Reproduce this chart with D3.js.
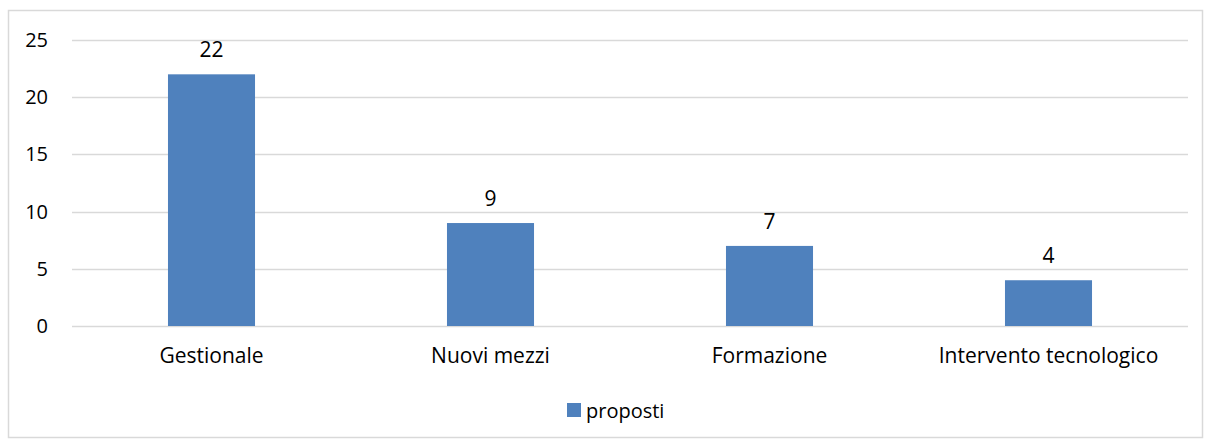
<!DOCTYPE html>
<html>
<head>
<meta charset="utf-8">
<script src="https://cdn.jsdelivr.net/npm/d3@7"></script>
<style>
  body { margin: 0; background: #fff; }
  text { font-family: "Open Sans", "Noto Sans", sans-serif; fill: #000; }
</style>
</head>
<body>
<div id="chart-area"></div>
<script>
const categories = ["Gestionale", "Nuovi mezzi", "Formazione", "Intervento tecnologico"]
const values = [22, 9, 7, 4]
const yTicks = [0, 5, 10, 15, 20, 25]
const seriesName = "proposti"

const totalWidth = 1208
const totalHeight = 441
const MARGIN = {LEFT: 72, RIGHT: 20, TOP: 40, BOTTOM: 115}
const WIDTH = totalWidth - MARGIN.LEFT - MARGIN.RIGHT
const HEIGHT = totalHeight - MARGIN.TOP - MARGIN.BOTTOM
const BAR_COLOR = "#4F81BD"
const GRID_COLOR = "#D9D9D9"
const FONT = '"Open Sans", "Noto Sans", sans-serif'

const svg = d3.select("#chart-area")
    .append("svg")
    .attr("width", totalWidth)
    .attr("height", totalHeight)

// outer frame
svg.append("rect")
    .attr("x", 8.5)
    .attr("y", 10.5)
    .attr("width", totalWidth - 14)
    .attr("height", totalHeight - 14)
    .attr("fill", "none")
    .attr("stroke", GRID_COLOR)
    .attr("stroke-width", 1.5)

const g = svg.append("g")
    .attr("transform", `translate(${MARGIN.LEFT}, ${MARGIN.TOP})`)

const xScale = d3.scaleBand()
    .domain(categories)
    .range([0, WIDTH])
    .paddingInner(0.688)
    .paddingOuter(0.344)

const yScale = d3.scaleLinear()
    .domain([0, 25])
    .range([HEIGHT, 0])

// gridlines
g.append("g")
    .attr("class", "grid")
    .selectAll("line")
    .data(yTicks)
    .join("line")
    .attr("x1", 0)
    .attr("x2", WIDTH)
    .attr("y1", d => Math.round(yScale(d)) + 0.5)
    .attr("y2", d => Math.round(yScale(d)) + 0.5)
    .attr("stroke", GRID_COLOR)
    .attr("stroke-width", 1.5)

// y axis labels
const yAxisCall = d3.axisLeft(yScale).tickValues(yTicks).tickSize(0).tickPadding(24)
const yAxis = g.append("g").attr("class", "y axis").call(yAxisCall)
yAxis.select(".domain").remove()
yAxis.selectAll("text")
    .attr("font-size", "20px")
    .style("font-family", FONT)
    .attr("fill", "#000")

// bars
g.selectAll(".bar")
    .data(values)
    .join("rect")
    .attr("class", "bar")
    .attr("x", (d, i) => xScale(categories[i]))
    .attr("y", d => yScale(d))
    .attr("width", xScale.bandwidth())
    .attr("height", d => HEIGHT - yScale(d))
    .attr("fill", BAR_COLOR)

// value labels
g.selectAll(".value-label")
    .data(values)
    .join("text")
    .attr("class", "value-label")
    .attr("x", (d, i) => xScale(categories[i]) + xScale.bandwidth() / 2)
    .attr("y", d => yScale(d) - 17)
    .attr("text-anchor", "middle")
    .attr("font-size", "21px")
    .text(d => d)

// x axis labels
const xAxisCall = d3.axisBottom(xScale).tickSize(0).tickPadding(22)
const xAxis = g.append("g")
    .attr("class", "x axis")
    .attr("transform", `translate(0, ${HEIGHT})`)
    .call(xAxisCall)
xAxis.select(".domain").remove()
xAxis.selectAll("text")
    .attr("font-size", "21px")
    .style("font-family", FONT)
    .attr("fill", "#000")

// legend
const legend = svg.append("g")
    .attr("transform", `translate(567, 403)`)
legend.append("rect")
    .attr("width", 14)
    .attr("height", 14)
    .attr("fill", BAR_COLOR)
legend.append("text")
    .attr("x", 19)
    .attr("y", 15)
    .attr("font-size", "20px")
    .text(seriesName)
</script>
</body>
</html>
